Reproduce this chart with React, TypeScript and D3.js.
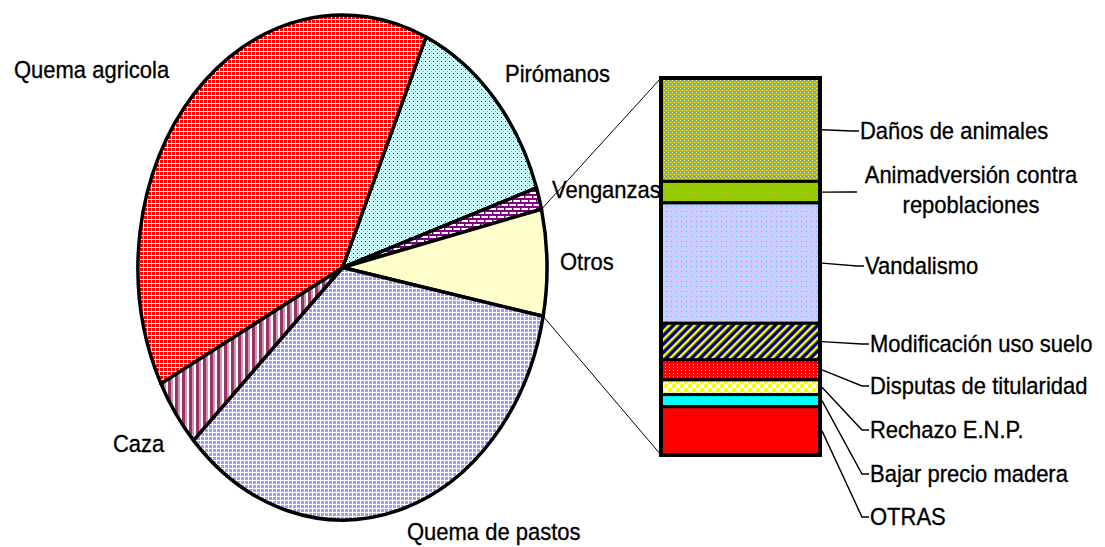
import React from "react";
import * as d3 from "d3";

// pie: main causes (% of total), in drawing order clockwise from the Pirómanos edge
const pieCategories = ["Pirómanos", "Venganzas", "Otros", "Quema de pastos", "Caza", "Quema agricola"];
const pieValues = [13.2, 1.4, 6.8, 34.9, 4.4, 39.3];

// bar: breakdown of "Otros" (% of that slice), top to bottom
const barCategories = [
  "Daños de animales",
  "Animadversión contra repoblaciones",
  "Vandalismo",
  "Modificación uso suelo",
  "Disputas de titularidad",
  "Rechazo E.N.P.",
  "Bajar precio madera",
  "OTRAS",
];
const barValues = [27.4, 5.7, 31.9, 9.7, 5.3, 3.9, 3.2, 12.8];

const width = 1105;
const height = 547;

// ellipse pie geometry
const cx = 342.5;
const cy = 267.5;
const rx = 204.5;
const ry = 252.5;
const startDeg = 24.1;

// bar geometry
const barX0 = 661;
const barX1 = 820;
const barTop = 78;
const barBottom = 455;

const pieFills: Record<string, string> = {
  "Pirómanos": "url(#pPir)",
  "Venganzas": "url(#pVen)",
  "Otros": "#ffffcc",
  "Quema de pastos": "url(#pPas)",
  "Caza": "url(#pCaz)",
  "Quema agricola": "url(#pAgr)",
};
const barFills = [
  "url(#pDan)",
  "#99cc00",
  "url(#pVan)",
  "url(#pMod)",
  "url(#pDis)",
  "url(#pRec)",
  "#00ffff",
  "#ff0000",
];

// label placement (left x of text, centre y of the leader end)
const pieLabelPos: Record<string, [number, number]> = {
  "Quema agricola": [14, 78],
  "Pirómanos": [505, 82],
  "Venganzas": [552, 198],
  "Otros": [560, 270],
  "Caza": [113, 452],
  "Quema de pastos": [407, 540],
};
const barLabelX = [860, 858, 865, 870, 870, 870, 870, 870];
const barLabelY = [131, 192, 266, 344, 386, 430, 474, 517];

const font = "'Liberation Sans', Arial, sans-serif";

const pt = (a: number): [number, number] => [cx + rx * Math.sin(a), cy - ry * Math.cos(a)];

const Label = ({ x, y, text, anchor = "start" }: { x: number; y: number; text: string; anchor?: string }) => (
  <text
    transform={`translate(${x},${y}) scale(1,1.08)`}
    textAnchor={anchor}
    fontFamily={font}
    fontSize={22}
    fill="#000"
    stroke="#000"
    strokeWidth={0.3}
  >
    {text}
  </text>
);

export default function App() {
  const start = (startDeg * Math.PI) / 180;
  const arcs = d3
    .pie<number>()
    .sort(null)
    .value((d) => d)
    .startAngle(start)
    .endAngle(start + 2 * Math.PI)(pieValues);

  const slicePath = (a0: number, a1: number) => {
    const [x0, y0] = pt(a0);
    const [x1, y1] = pt(a1);
    const large = a1 - a0 > Math.PI ? 1 : 0;
    return `M${cx},${cy}L${x0},${y0}A${rx},${ry} 0 ${large} 1 ${x1},${y1}Z`;
  };

  const y = d3
    .scaleLinear()
    .domain([0, d3.sum(barValues)])
    .range([barTop, barBottom]);
  let acc = 0;
  const segs = barValues.map((v) => {
    const s = { y0: y(acc), y1: y(acc + v) };
    acc += v;
    return s;
  });

  const otros = arcs[pieCategories.indexOf("Otros")];
  const [ox0, oy0] = pt(otros.startAngle);
  const [ox1, oy1] = pt(otros.endAngle);

  return (
    <svg width={width} height={height} style={{ position: "absolute", left: 0, top: 0, background: "#fff" }}>
      <defs>
        <pattern id="pAgr" width={4} height={4} patternUnits="userSpaceOnUse">
          <rect width={4} height={4} fill="#ffffcc" />
          <rect width={3} height={3} fill="#ff0000" />
        </pattern>
        <pattern id="pPir" width={4} height={4} patternUnits="userSpaceOnUse">
          <rect width={4} height={4} fill="#ccffff" />
          <rect x={1} y={1} width={1} height={1} fill="#333" />
          <rect x={3} y={3} width={1} height={1} fill="#8aa" />
        </pattern>
        <pattern id="pVen" width={8} height={8} patternUnits="userSpaceOnUse">
          <rect width={8} height={8} fill="#fff" />
          <rect y={2} width={8} height={2} fill="#800080" />
          <rect y={6} width={8} height={2} fill="#800080" />
          <rect x={0} y={0} width={1.5} height={2} fill="#800080" />
          <rect x={4} y={4} width={1.5} height={2} fill="#800080" />
        </pattern>
        <pattern id="pPas" width={4} height={4} patternUnits="userSpaceOnUse">
          <rect width={4} height={4} fill="#9c9cff" />
          <rect width={4} height={1} fill="#ffffff" />
          <rect width={1} height={4} fill="#ffffff" />
        </pattern>
        <pattern id="pCaz" width={7} height={7} patternUnits="userSpaceOnUse">
          <rect width={7} height={7} fill="#fff" />
          <rect width={3} height={7} fill="#993366" />
          <rect x={3} width={2} height={7} fill="#cc99b3" />
        </pattern>
        <pattern id="pDan" width={4} height={4} patternUnits="userSpaceOnUse">
          <rect width={4} height={4} fill="#a4ac6c" />
          <rect x={0} y={0} width={1} height={1} fill="#ffff00" />
          <rect x={2} y={2} width={1} height={1} fill="#ffff00" />
          <rect x={2} y={0} width={1} height={1} fill="#4477ff" />
        </pattern>
        <pattern id="pVan" width={5} height={5} patternUnits="userSpaceOnUse">
          <rect width={5} height={5} fill="#ccccff" />
          <rect x={1} y={1} width={1} height={1} fill="#33ccff" />
        </pattern>
        <pattern id="pMod" width={6} height={6} patternUnits="userSpaceOnUse" patternTransform="rotate(45)">
          <rect width={6} height={6} fill="#000080" />
          <rect width={2.5} height={6} fill="#ffff00" />
        </pattern>
        <pattern id="pDis" width={4} height={3} patternUnits="userSpaceOnUse">
          <rect width={4} height={3} fill="#ff0000" />
          <rect x={1} y={1} width={1} height={1} fill="#ffcccc" />
        </pattern>
        <pattern id="pRec" width={8} height={8} patternUnits="userSpaceOnUse">
          <rect width={8} height={8} fill="#fff" />
          <rect width={4} height={4} fill="#ffff00" />
          <rect x={4} y={4} width={4} height={4} fill="#ffff00" />
        </pattern>
      </defs>

      {/* pie slices */}
      <g>
        {arcs.map((a, i) => (
          <path
            key={pieCategories[i]}
            d={slicePath(a.startAngle, a.endAngle)}
            fill={pieFills[pieCategories[i]]}
            stroke="#000"
            strokeWidth={3.5}
            strokeLinejoin="round"
          />
        ))}
      </g>

      {/* connectors pie -> bar */}
      <line x1={ox0} y1={oy0} x2={barX0} y2={barTop} stroke="#000" strokeWidth={1} />
      <line x1={ox1} y1={oy1} x2={barX0} y2={barBottom} stroke="#000" strokeWidth={1} />

      {/* stacked bar */}
      <g>
        {segs.map((s, i) => (
          <rect
            key={barCategories[i]}
            x={barX0}
            y={s.y0}
            width={barX1 - barX0}
            height={s.y1 - s.y0}
            fill={barFills[i]}
            stroke="#000"
            strokeWidth={3}
          />
        ))}
        <rect x={barX0} y={barTop} width={barX1 - barX0} height={barBottom - barTop} fill="none" stroke="#000" strokeWidth={4} />
      </g>

      {/* bar leader lines */}
      <g fill="none" stroke="#000" strokeWidth={1.4}>
        {segs.map((s, i) => {
          const mid = (s.y0 + s.y1) / 2;
          const lx = barLabelX[i];
          const ly = barLabelY[i];
          return (
            <polyline
              key={barCategories[i]}
              points={`${barX1 + 2},${mid} ${lx - 8},${ly} ${lx - 1},${ly}`}
            />
          );
        })}
      </g>

      {/* pie labels */}
      {pieCategories.map((c) => (
        <Label key={c} x={pieLabelPos[c][0]} y={pieLabelPos[c][1]} text={c} />
      ))}

      {/* bar labels */}
      {barCategories.map((c, i) => {
        if (i === 1) {
          return (
            <g key={c}>
              <Label x={971} y={183} text="Animadversión contra" anchor="middle" />
              <Label x={971} y={213} text="repoblaciones" anchor="middle" />
            </g>
          );
        }
        return <Label key={c} x={barLabelX[i]} y={barLabelY[i] + 8} text={c} />;
      })}
    </svg>
  );
}
